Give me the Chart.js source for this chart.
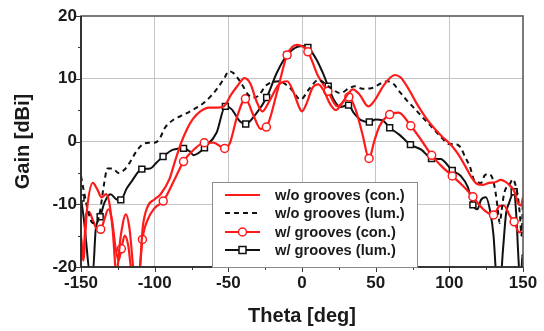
<!DOCTYPE html>
<html>
<head>
<meta charset="utf-8">
<script src="https://cdn.jsdelivr.net/npm/chart.js@4/dist/chart.umd.min.js"></script>
<style>
  body { margin: 0; background: #fff; }
  #wrap { width: 544px; height: 331px; position: relative; }
</style>
</head>
<body>
<div id="wrap"><canvas id="gainChart"></canvas></div>
<script>
// Gain vs theta, four measured curves
const woConTheta = [-150, -148.5, -146, -142, -139, -136, -133, -131, -128.5, -126, -123, -119.5, -117, -114, -111, -108, -105, -100, -96, -90, -86, -82, -78, -74, -69, -63, -57, -53, -48, -44, -39, -35, -31, -27, -22, -16, -10, -6, -2, 0, 3, 7, 11, 15, 19, 23, 27, 31, 34.5, 39, 45, 50, 55, 60, 63, 67, 72, 78, 84, 89, 95, 101, 106, 111, 115, 119, 123, 127, 131, 135, 138, 141, 144, 147, 148.6, 150];
const woConGain = [-15, -19, -11, -6.6, -7.6, -8.9, -8.4, -9.5, -14, -21, -15, -11.6, -14, -21, -22, -13.5, -10.5, -9.2, -8.4, -6, -3, -0.2, 2, 3.6, 4.8, 5.4, 5.4, 5.6, 7.5, 8.8, 10.1, 9.2, 6.5, 4.8, 6.5, 9, 9.6, 8, 5.5, 4.8, 6, 8.5, 9.1, 8, 6, 5, 6, 7.5, 8.3, 7.5, 5.6, 6.8, 8.8, 10.2, 10.6, 10.2, 8.5, 6, 3.8, 2.3, 0.8, -0.5, -2, -4, -5.7, -6.8, -6.9, -6.6, -6.5, -6.1, -6.4, -7, -7.9, -10, -10.2, -8.9];

const woLumTheta = [-150, -148, -145, -142, -139.5, -137, -134.5, -132, -128.5, -124.6, -121, -117, -112.5, -108.5, -104, -100.5, -97, -93, -87, -80, -73, -67, -62, -58, -53, -49.5, -46.5, -43, -40, -37, -33, -30, -24, -16, -8, -1, 5, 11, 18, 26, 32, 36, 41, 47, 54, 58, 62, 66, 71, 77, 82, 88.5, 94, 100, 104, 107.5, 111, 114, 116.5, 119, 121.5, 124, 127, 129.5, 131.5, 133, 134.2, 135.5, 137, 139, 141, 143, 145, 146.5, 148, 149, 150];
const woLumGain = [-5.5, -8, -11.3, -13, -13, -11, -7, -4.3, -4.3, -5, -4.6, -3.4, -1.6, -0.5, -0.2, -0.2, 0.3, 2.2, 3.5, 4.3, 5.2, 6.1, 7.2, 8.3, 10, 11.2, 10.9, 9.9, 8.8, 7.6, 7, 7.2, 9, 9.6, 8.5, 6.7, 8.4, 9.8, 8.8, 7.7, 8.5, 8.8, 8.4, 8.5, 9.3, 9.6, 9.2, 8, 6.6, 5.1, 3.8, 2.2, 0.8, -0.4, -0.4, -0.9, -2.6, -4, -6, -6.5, -6.6, -5.4, -5.2, -6, -8.3, -11, -13, -11, -8.5, -7.2, -6.8, -6, -7, -8.7, -12, -15, -9];

const wConTheta = [-150, -148.5, -146.5, -144.5, -142, -139, -136.6, -134, -131.5, -129, -126.5, -124.5, -122.6, -120.3, -118, -115.5, -112, -110, -108.3, -105, -100, -94.2, -87, -80.4, -73, -66.3, -60, -52.5, -49, -44, -38.4, -33, -28, -24.2, -17, -10.1, -3.5, 4, 11, 17.6, 24, 31.8, 36.5, 41, 45.5, 49, 52.5, 59.5, 65.5, 73.8, 81, 88, 95, 102, 109, 116, 120, 124, 130, 134, 137, 141, 144, 147.5, 150];
const wConGain = [-15.5, -18.5, -11.5, -11.2, -12.5, -14, -14, -12.3, -10.8, -12.5, -17, -19, -17.1, -15, -16.5, -21, -22, -20, -15.6, -12.6, -10.6, -9.5, -6.3, -3.2, -1.2, -0.2, -0.2, -1.1, -0.3, 4, 6.8, 4.2, 2, 2.3, 7.8, 13.8, 15.4, 14.3, 10.4, 8, 5.6, 7.1, 5, 1.2, -2.7, 0, 2.4, 4.3, 4.6, 2.5, 0.2, -2.2, -4, -5.5, -7, -8.8, -10, -11, -11.7, -10.3, -10.2, -11.8, -12.8, -14.5, -13.7];
const wConMarks = [-136.6, -122.6, -108.3, -94.2, -80.4, -66.3, -52.5, -38.4, -24.2, -10.1, 4, 17.6, 31.8, 45.5, 59.5, 73.8, 88, 102, 116, 130, 144];

const wLumTheta = [-150, -148, -146.5, -144, -142, -140, -137, -134, -130, -126, -123, -119, -115.5, -108.7, -103, -98.5, -94.3, -87.5, -80.4, -76, -73.6, -70, -66.2, -58, -52, -48, -42, -38.2, -31, -24, -17, -10, -3, 1, 4, 10, 14, 17.8, 21.5, 26, 31.6, 35, 40, 45.7, 50, 54.5, 59.5, 66, 73.6, 81, 87.9, 94.2, 102, 107.8, 112.4, 116, 119, 121.5, 124.8, 128, 130, 132, 134, 136.5, 138.5, 140.7, 142.5, 144, 145.5, 147, 148.5, 149.5, 150];
const wLumGain = [-9, -12.5, -16, -21, -21, -14, -12, -9.7, -8.4, -9.2, -9.3, -7.5, -6.3, -4.4, -4.3, -3.3, -2.4, -1.3, -1.1, -1.6, -2.2, -1.8, -1, 1.4, 5.6, 5.2, 3.2, 2.8, 4.5, 7, 11, 13.8, 15.1, 15.2, 15, 13, 11, 8.8, 6.7, 5.5, 5.8, 4.6, 3.4, 3.1, 3.5, 3.4, 2.2, 1.1, -0.5, -1.3, -2.7, -2.8, -4.6, -5.5, -7.2, -10.1, -10.8, -9.3, -8.9, -11.5, -15, -22, -24, -17, -11.5, -9.7, -8.5, -8, -12, -19, -24, -18, -20];
const wLumMarks = [-150, -137, -123, -108.7, -94.3, -80.4, -66.2, -52, -38.2, -24, -10, 4, 17.8, 31.6, 45.7, 59.5, 73.6, 87.9, 102, 116, 144];

const xTicks = [-150, -100, -50, 0, 50, 100, 150];
const yTicks = [-20, -10, 0, 10, 20];

const legendLabels = ['w/o grooves (con.)', 'w/o grooves (lum.)', 'w/ grooves (con.)', 'w/ grooves (lum.)'];

const RED = '#ff1a1a';
const BLACK = '#111111';
const textFont = '"Liberation Sans", Arial, sans-serif';

function toPoints(xs, ys) {
    return xs.map((x, i) => ({ x: x, y: ys[i] }));
}

function markRadius(thetas, marks, r) {
    return ctx => marks.includes(thetas[ctx.dataIndex]) ? r : 0;
}

// square / circle marker with white fill
function drawMarker(ctx, style, x, y, color) {
    ctx.save();
    ctx.fillStyle = '#fff';
    ctx.strokeStyle = color;
    ctx.lineWidth = 1.5;
    ctx.beginPath();
    if (style === 'rect') {
        ctx.rect(x - 3.5, y - 3.5, 7, 7);
    } else {
        ctx.arc(x, y, 4, 0, Math.PI * 2);
    }
    ctx.fill();
    ctx.stroke();
    ctx.restore();
}

// frame, minor ticks, legend box
const decorPlugin = {
    id: 'decor',
    afterDraw(chart) {
        const { ctx, chartArea: a, scales } = chart;
        ctx.save();
        ctx.strokeStyle = '#3a3a3a';
        ctx.lineWidth = 1;
        for (let v = -150; v <= 150; v += 25) {
            const px = Math.round(scales.x.getPixelForValue(v)) + 0.5;
            const len = v % 50 === 0 ? 5 : 3;
            ctx.beginPath();
            ctx.moveTo(px, a.bottom);
            ctx.lineTo(px, a.bottom + len);
            ctx.stroke();
        }
        for (let v = -20; v <= 20; v += 5) {
            const py = Math.round(scales.y.getPixelForValue(v)) + 0.5;
            const len = v % 10 === 0 ? 5 : 3;
            ctx.beginPath();
            ctx.moveTo(a.left, py);
            ctx.lineTo(a.left - len, py);
            ctx.stroke();
        }
        // frame
        ctx.strokeStyle = '#5a5a5a';
        ctx.lineWidth = 1.6;
        ctx.strokeRect(a.left, a.top, a.right - a.left, a.bottom - a.top);
        ctx.strokeStyle = '#222';
        ctx.beginPath();
        ctx.moveTo(a.left, a.top);
        ctx.lineTo(a.left, a.bottom);
        ctx.lineTo(a.right, a.bottom);
        ctx.stroke();

        // legend
        const bx = 212, by = 182, bw = 205, bh = a.bottom - by;
        ctx.fillStyle = '#fff';
        ctx.fillRect(bx, by, bw, bh);
        ctx.strokeStyle = '#8a8a8a';
        ctx.lineWidth = 1;
        ctx.strokeRect(bx + 0.5, by + 0.5, bw, bh);
        const rows = [195, 213, 232, 250];
        chart.data.datasets.forEach((ds, i) => {
            const y = rows[i];
            ctx.save();
            ctx.strokeStyle = ds.borderColor;
            ctx.lineWidth = 2;
            ctx.setLineDash(ds.borderDash || []);
            ctx.beginPath();
            ctx.moveTo(225, y);
            ctx.lineTo(260, y);
            ctx.stroke();
            ctx.restore();
            if (ds.markerStyle) drawMarker(ctx, ds.markerStyle, 242.5, y, ds.borderColor);
            ctx.fillStyle = '#1a1a1a';
            ctx.font = 'bold 14.7px ' + textFont;
            ctx.textBaseline = 'middle';
            ctx.fillText(legendLabels[i], 275, y + 1);
        });
        ctx.restore();
    }
};

function initGainChart() {
    const ctx = document.getElementById('gainChart').getContext('2d');

    new Chart(ctx, {
        type: 'line',
        data: {
            datasets: [
                {
                    label: legendLabels[0],
                    data: toPoints(woConTheta, woConGain),
                    borderColor: RED,
                    borderWidth: 2.2,
                    pointRadius: 0
                },
                {
                    label: legendLabels[1],
                    data: toPoints(woLumTheta, woLumGain),
                    borderColor: BLACK,
                    borderWidth: 2,
                    borderDash: [5, 4],
                    pointRadius: 0
                },
                {
                    label: legendLabels[2],
                    data: toPoints(wConTheta, wConGain),
                    borderColor: RED,
                    borderWidth: 2.2,
                    markerStyle: 'circle',
                    pointStyle: 'circle',
                    pointRadius: markRadius(wConTheta, wConMarks, 4),
                    pointBackgroundColor: '#fff',
                    pointBorderColor: RED,
                    pointBorderWidth: 1.5
                },
                {
                    label: legendLabels[3],
                    data: toPoints(wLumTheta, wLumGain),
                    borderColor: BLACK,
                    borderWidth: 2,
                    markerStyle: 'rect',
                    pointStyle: 'rect',
                    pointRadius: markRadius(wLumTheta, wLumMarks, 4.2),
                    pointBackgroundColor: '#fff',
                    pointBorderColor: BLACK,
                    pointBorderWidth: 1.5
                }
            ]
        },
        options: {
            responsive: true,
            maintainAspectRatio: false,
            animation: false,
            layout: { padding: { left: 0, right: 21, top: 16, bottom: 0 } },
            plugins: {
                legend: { display: false },
                tooltip: { enabled: false }
            },
            elements: { line: { cubicInterpolationMode: 'monotone' } },
            scales: {
                x: {
                    type: 'linear',
                    min: -150,
                    max: 150,
                    afterFit: s => { s.height = 64; },
                    afterBuildTicks: s => { s.ticks = xTicks.map(v => ({ value: v })); },
                    grid: {
                        drawTicks: false,
                        color: c => (c.tick && Math.abs(c.tick.value) < 150) ? '#c4c4c4' : 'rgba(0,0,0,0)',
                        lineWidth: 1
                    },
                    border: { display: false },
                    ticks: {
                        autoSkip: false,
                        maxRotation: 0,
                        padding: 6,
                        color: '#1a1a1a',
                        font: { family: textFont, size: 17, weight: 'bold' }
                    },
                    title: {
                        display: true,
                        text: 'Theta [deg]',
                        color: '#1a1a1a',
                        padding: { top: 0, bottom: 3 },
                        font: { family: textFont, size: 20, weight: 'bold' }
                    }
                },
                y: {
                    min: -20,
                    max: 20,
                    afterFit: s => { s.width = 81; },
                    afterBuildTicks: s => { s.ticks = yTicks.map(v => ({ value: v })); },
                    grid: {
                        drawTicks: false,
                        color: c => (c.tick && Math.abs(c.tick.value) < 20) ? '#c4c4c4' : 'rgba(0,0,0,0)',
                        lineWidth: 1
                    },
                    border: { display: false },
                    ticks: {
                        autoSkip: false,
                        padding: 4,
                        color: '#1a1a1a',
                        font: { family: textFont, size: 17, weight: 'bold' }
                    },
                    title: {
                        display: true,
                        text: 'Gain [dBi]',
                        color: '#1a1a1a',
                        padding: { top: 11, bottom: 0 },
                        font: { family: textFont, size: 20, weight: 'bold' }
                    }
                }
            }
        },
        plugins: [decorPlugin]
    });
}

document.addEventListener('DOMContentLoaded', () => {
    initGainChart();
});
</script>
</body>
</html>
